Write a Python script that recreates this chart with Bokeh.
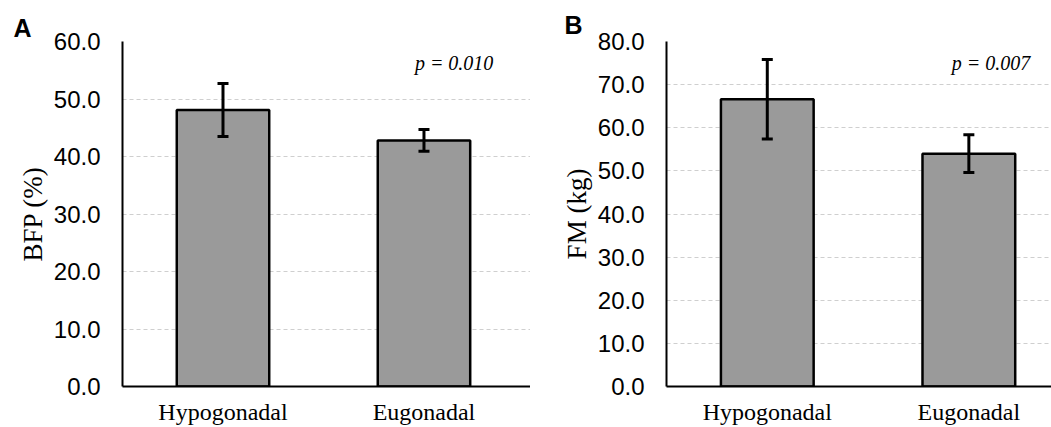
from bokeh.plotting import figure
from bokeh.layouts import row
from bokeh.models import (Range1d, FixedTicker, PrintfTickFormatter, Whisker,
                          TeeHead, ColumnDataSource, Label, Title)
from bokeh.embed import file_html
from bokeh.resources import INLINE

# ---- data ----
categories = ["Hypogonadal", "Eugonadal"]
bfp_mean = [48.1, 42.8]
bfp_err = [4.6, 1.9]
fm_mean = [66.6, 54.0]
fm_err = [9.2, 4.4]
bfp_ticks = [0, 10, 20, 30, 40, 50, 60]
fm_ticks = [0, 10, 20, 30, 40, 50, 60, 70, 80]
p_texts = ["p = 0.010", "p = 0.007"]
panel_letters = ["A", "B"]
y_labels = ["BFP (%)", "FM (kg)"]

SANS = "Liberation Sans"
SERIF = "Liberation Serif"


def make_panel(letter, means, errs, ticks, ylabel, ptext, width, border_left,
               x_end, p_pos, letter_offset, letter_standoff):
    xs = list(range(len(categories)))
    src = ColumnDataSource(dict(
        x=xs, top=means,
        upper=[m + e for m, e in zip(means, errs)],
        lower=[m - e for m, e in zip(means, errs)],
    ))
    p = figure(width=width, height=427, output_backend="svg",
               toolbar_location=None,
               x_range=Range1d(-0.5, x_end),
               y_range=Range1d(ticks[0], ticks[-1]),
               min_border_left=border_left, min_border_right=0,
               min_border_top=41, min_border_bottom=40)
    p.outline_line_color = None
    p.background_fill_color = "white"
    p.border_fill_color = "white"

    p.title = Title(text=letter, align="left", offset=letter_offset,
                    standoff=letter_standoff, vertical_align="bottom",
                    text_font=SANS, text_font_style="bold",
                    text_font_size="25px", text_color="black")

    p.vbar(x="x", top="top", width=0.46, source=src,
           fill_color="#9a9a9a", line_color="black", line_width=2.5)
    p.add_layout(Whisker(source=src, base="x", upper="upper", lower="lower",
                         level="overlay",
                         line_color="black", line_width=3,
                         upper_head=TeeHead(size=11, line_width=3, line_color="black"),
                         lower_head=TeeHead(size=11, line_width=3, line_color="black")))

    # grid
    p.xgrid.visible = False
    p.ygrid.ticker = FixedTicker(ticks=ticks)
    p.ygrid.grid_line_color = "#cfcfcf"
    p.ygrid.grid_line_dash = "4 3"
    p.ygrid.grid_line_width = 1

    # y axis
    ya = p.yaxis[0]
    ya.ticker = FixedTicker(ticks=ticks)
    ya.formatter = PrintfTickFormatter(format="%.1f")
    ya.axis_line_color = "black"
    ya.axis_line_width = 2
    ya.major_tick_line_color = None
    ya.minor_tick_line_color = None
    ya.major_tick_out = 0
    ya.major_tick_in = 0
    ya.minor_tick_out = 0
    ya.major_label_standoff = 22
    ya.major_label_text_font = SANS
    ya.major_label_text_font_size = "24px"
    ya.major_label_text_color = "black"
    ya.axis_label = ylabel
    ya.axis_label_text_font = SERIF
    ya.axis_label_text_font_style = "normal"
    ya.axis_label_text_font_size = "27px"
    ya.axis_label_text_color = "black"
    ya.axis_label_standoff = 3

    # x axis
    xa = p.xaxis[0]
    xa.ticker = FixedTicker(ticks=xs)
    xa.major_label_overrides = {i: c for i, c in enumerate(categories)}
    xa.axis_line_color = "black"
    xa.axis_line_width = 2
    xa.major_tick_line_color = None
    xa.minor_tick_line_color = None
    xa.major_tick_out = 0
    xa.major_tick_in = 0
    xa.minor_tick_out = 0
    xa.major_label_standoff = 12
    xa.major_label_text_font = SERIF
    xa.major_label_text_font_size = "24px"
    xa.major_label_text_color = "black"

    p.add_layout(Label(x=p_pos[0], y=p_pos[1], text=ptext,
                       text_font=SERIF, text_font_style="italic",
                       text_font_size="20px", text_color="black",
                       text_align="center", text_baseline="middle"))
    return p


pA = make_panel(panel_letters[0], bfp_mean, bfp_err, bfp_ticks, y_labels[0],
                p_texts[0], 530, 122, 1.53, (1.15, 56.2), -109, 0)
pB = make_panel(panel_letters[1], fm_mean, fm_err, fm_ticks, y_labels[1],
                p_texts[1], 521, 136, 1.41, (1.11, 74.9), -102, 6)

layout = row(pA, pB)
open("out.html", "w").write(file_html(layout, INLINE))
